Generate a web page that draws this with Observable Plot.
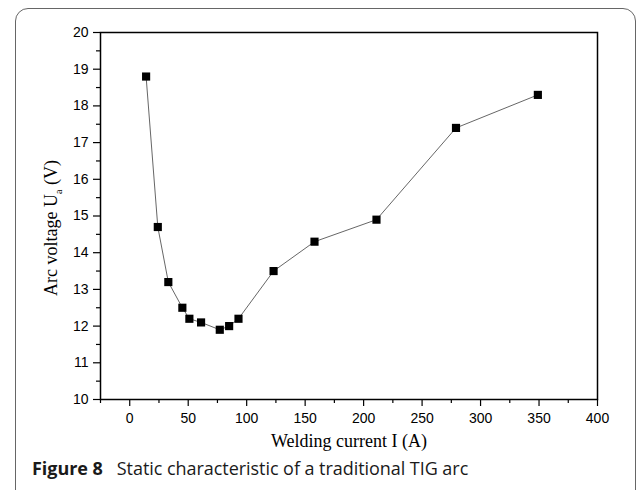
<!DOCTYPE html>
<html>
<head>
<meta charset="utf-8">
<script src="https://cdn.jsdelivr.net/npm/d3@7"></script>
<script src="https://cdn.jsdelivr.net/npm/@observablehq/plot@0.6"></script>
<style>
  html, body { margin: 0; padding: 0; background: #fff; }
  #wrap { position: relative; width: 638px; height: 490px; overflow: hidden; background: #fff; }
  #box { position: absolute; left: 14.5px; top: 7.5px; width: 621px; height: 520px; border: 1.5px solid #666; border-radius: 13px; box-sizing: border-box; }
  #chart { position: absolute; left: 0; top: 0; }
  #caption { position: absolute; left: 32px; top: 458px; font-family: "Open Sans", sans-serif; font-size: 18px; color: #1a1a1a; white-space: nowrap; line-height: 20px; letter-spacing: -0.05px; }
  #caption b { font-weight: 700; display: inline-block; margin-right: 14px; }
</style>
</head>
<body>
<div id="wrap">
  <div id="box"></div>
  <div id="chart"></div>
  <div id="caption"><b>Figure 8</b>Static characteristic of a traditional TIG arc</div>
</div>
<script>
const current = [14, 24, 33, 45, 51, 61, 77, 85, 93, 123, 158, 211, 279, 349];
const voltage = [18.8, 14.7, 13.2, 12.5, 12.2, 12.1, 11.9, 12.0, 12.2, 13.5, 14.3, 14.9, 17.4, 18.3];
const xTicks = [0, 50, 100, 150, 200, 250, 300, 350, 400];
const xMinorTicks = [-25, 25, 75, 125, 175, 225, 275, 325, 375];
const yTicks = [10, 11, 12, 13, 14, 15, 16, 17, 18, 19, 20];
const yMinorTicks = [10.5, 11.5, 12.5, 13.5, 14.5, 15.5, 16.5, 17.5, 18.5, 19.5];
const xTitle = "Welding current I (A)";
const yTitle = ["Arc voltage U", "a", " (V)"];

const data = current.map((c, i) => ({current: c, voltage: voltage[i]}));

const plot = Plot.plot({
  width: 638,
  height: 455,
  marginLeft: 100,
  marginRight: 41,
  marginTop: 32,
  marginBottom: 56,
  style: {fontFamily: "'Liberation Sans', Arial, sans-serif", fontSize: "14px", color: "#000", background: "transparent"},
  x: {domain: [-25, 400]},
  y: {domain: [10, 20]},
  marks: [
    Plot.axisX({ticks: xTicks, tickSize: 7, tickPadding: 7, label: null, strokeWidth: 1.2, fontSize: 14}),
    Plot.axisX({ticks: xMinorTicks, tickSize: 4, text: null, label: null, strokeWidth: 1.2}),
    Plot.axisY({ticks: yTicks, tickSize: 7, tickPadding: 5, label: null, strokeWidth: 1.2, fontSize: 14}),
    Plot.axisY({ticks: yMinorTicks, tickSize: 4, text: null, label: null, strokeWidth: 1.2}),
    Plot.frame({stroke: "#000", strokeWidth: 1.5}),
    Plot.line(data, {x: "current", y: "voltage", stroke: "#555", strokeWidth: 0.9}),
    Plot.dot(data, {x: "current", y: "voltage", symbol: "square", r: 4.6, fill: "#000", stroke: "none"})
  ]
});
document.getElementById("chart").appendChild(plot);

const svg = d3.select(plot);
svg.append("text")
  .attr("x", 349).attr("y", 446.5)
  .attr("text-anchor", "middle")
  .style("font-family", "'Liberation Serif', 'Times New Roman', serif")
  .style("font-size", "18px")
  .attr("fill", "#000")
  .text(xTitle);

const yt = svg.append("text")
  .attr("transform", "translate(57,228) rotate(-90)")
  .attr("text-anchor", "middle")
  .style("font-family", "'Liberation Serif', 'Times New Roman', serif")
  .style("font-size", "18px")
  .attr("fill", "#000");
yt.append("tspan").text(yTitle[0]);
yt.append("tspan").attr("dy", 5).style("font-size", "10px").text(yTitle[1]);
yt.append("tspan").attr("dy", -5).text(yTitle[2]);
</script>
</body>
</html>
